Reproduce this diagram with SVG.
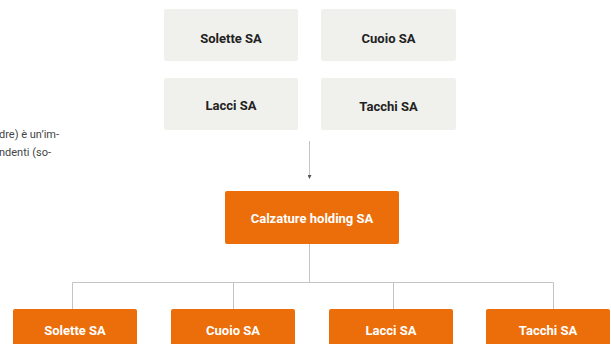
<svg xmlns="http://www.w3.org/2000/svg" width="611" height="344" viewBox="0 0 611 344">
<style>
.g{fill:#f0f0ec}
.o{fill:#eb6e0a}
.lb{font-family:Roboto,"Liberation Sans",sans-serif;font-weight:bold;font-size:13px;text-anchor:middle;dominant-baseline:central}
.dk{fill:#222}
.wt{fill:#fff}
.ln{stroke:#c4c4c4;stroke-width:1;fill:none}
.tx{font-family:Roboto,"Liberation Sans",sans-serif;font-size:11px;fill:#444}
</style>
<defs>
<marker id="ar" markerWidth="4" markerHeight="4" refX="2" refY="2" orient="auto" markerUnits="userSpaceOnUse">
<path d="M0,0 L4,2 L0,4 z" fill="#555"/>
</marker>
</defs>
<rect width="611" height="344" fill="#fff"/>
<text class="tx" x="-1" y="138">dre) è un’im-</text>
<text class="tx" x="-1" y="156">ndenti (so-</text>
<g id="connectors">
<line class="ln" x1="309.5" y1="141" x2="309.5" y2="177" marker-end="url(#ar)"/>
<path class="ln" d="M309.5,244 V282.5 M72.5,309 V282.5 H553.5 V309 M233.5,282.5 V309 M393.5,282.5 V309"/>
</g>
<g id="top-solette"><rect class="g" x="164" y="9" width="134" height="52" rx="2"/><text class="lb dk" x="231" y="38">Solette SA</text></g>
<g id="top-cuoio"><rect class="g" x="321" y="9" width="135" height="52" rx="2"/><text class="lb dk" x="388.5" y="38">Cuoio SA</text></g>
<g id="top-lacci"><rect class="g" x="164" y="78" width="134" height="52" rx="2"/><text class="lb dk" x="231" y="105">Lacci SA</text></g>
<g id="top-tacchi"><rect class="g" x="321" y="78" width="135" height="52" rx="2"/><text class="lb dk" x="388.5" y="106">Tacchi SA</text></g>
<g id="holding"><rect class="o" x="225" y="191" width="174" height="53" rx="2"/><text class="lb wt" x="312" y="218">Calzature holding SA</text></g>
<g id="sub-solette"><rect class="o" x="13" y="309" width="124" height="45" rx="2"/><text class="lb wt" x="75" y="330">Solette SA</text></g>
<g id="sub-cuoio"><rect class="o" x="171" y="309" width="124" height="45" rx="2"/><text class="lb wt" x="233" y="330">Cuoio SA</text></g>
<g id="sub-lacci"><rect class="o" x="329" y="309" width="124" height="45" rx="2"/><text class="lb wt" x="391" y="330">Lacci SA</text></g>
<g id="sub-tacchi"><rect class="o" x="486" y="309" width="124" height="45" rx="2"/><text class="lb wt" x="548" y="330">Tacchi SA</text></g>
</svg>
